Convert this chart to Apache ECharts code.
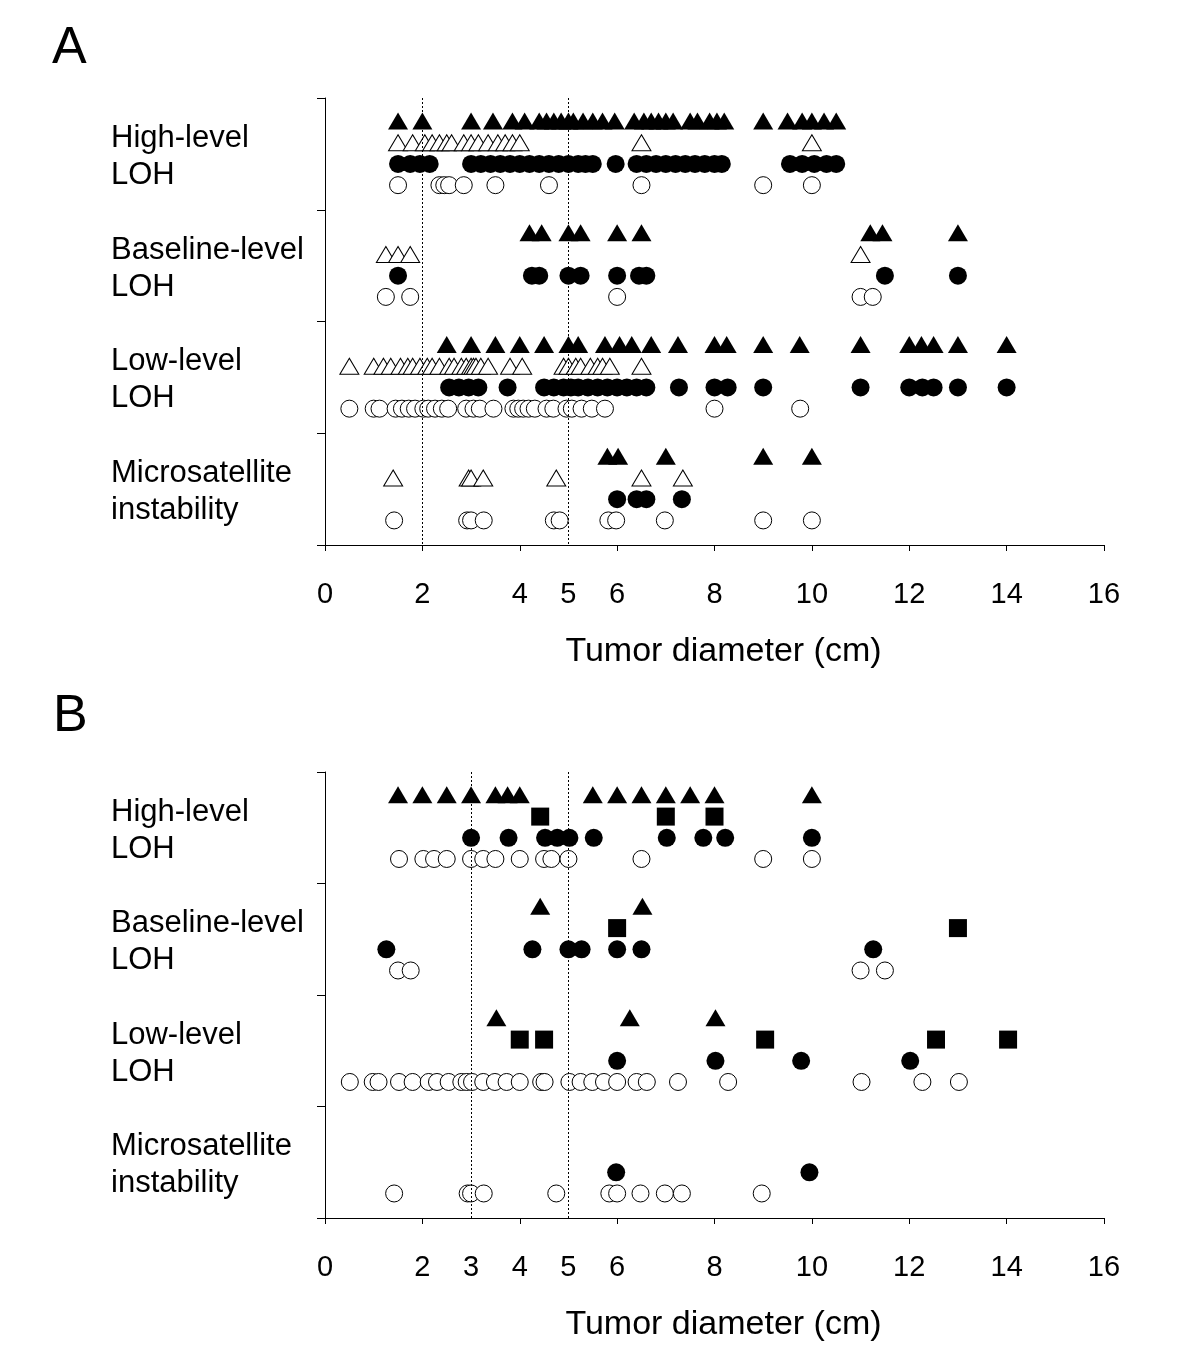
<!DOCTYPE html>
<html><head><meta charset="utf-8">
<script src="https://cdn.jsdelivr.net/npm/echarts@6/dist/echarts.min.js"></script>
<style>html,body{margin:0;padding:0;background:#fff}#c{width:1200px;height:1361px}</style>
</head><body><div id="c"></div>
<script>
// ---------- DATA ----------
const groups = ["High-level\nLOH", "Baseline-level\nLOH", "Low-level\nLOH", "Microsatellite\ninstability"];
const xTicks = [0, 2, 4, 6, 8, 10, 12, 14, 16];
const A_tickLabels = [0, 2, 4, 5, 6, 8, 10, 12, 14, 16];
const B_tickLabels = [0, 2, 3, 4, 5, 6, 8, 10, 12, 14, 16];
const A_cutoffs = [2, 5];
const B_cutoffs = [3, 5];
const xTitle = "Tumor diameter (cm)";

// Panel A (per group: High, Baseline, Low, MSI)
const A_filledTri = [
  [1.5, 2, 3, 3.45, 3.85, 4.1, 4.4, 4.55, 4.7, 4.85, 5, 5.1, 5.3, 5.5, 5.7, 5.95, 6.35, 6.55, 6.7, 6.85, 7, 7.15, 7.5, 7.65, 7.9, 8.05, 8.2, 9, 9.5, 9.8, 10, 10.25, 10.5],
  [4.2, 4.45, 5, 5.25, 6, 6.5, 11.2, 11.45, 13],
  [2.5, 3, 3.5, 4, 4.5, 5, 5.2, 5.75, 6.05, 6.3, 6.7, 7.25, 8, 8.25, 9, 9.75, 11, 12, 12.25, 12.5, 13, 14],
  [5.8, 6.02, 7, 9, 10]
];
const A_openTri = [
  [1.5, 1.8, 2.05, 2.2, 2.35, 2.5, 2.6, 2.85, 3.0, 3.15, 3.35, 3.55, 3.7, 3.85, 4.0, 6.5, 10.0],
  [1.25, 1.5, 1.75, 11.0],
  [0.5, 1.0, 1.2, 1.35, 1.55, 1.7, 1.8, 1.95, 2.1, 2.2, 2.35, 2.55, 2.65, 2.8, 2.9, 3.0, 3.05, 3.1, 3.2, 3.35, 3.8, 4.05, 4.9, 5.0, 5.15, 5.25, 5.45, 5.6, 5.7, 5.85, 6.5],
  [1.4, 2.95, 3.0, 3.25, 4.75, 6.5, 7.35]
];
const A_filledCircle = [
  [1.5, 1.75, 1.95, 2.15, 3.0, 3.2, 3.4, 3.6, 3.8, 4.0, 4.2, 4.4, 4.6, 4.8, 5.0, 5.2, 5.35, 5.5, 5.97, 6.4, 6.6, 6.8, 7.0, 7.2, 7.4, 7.6, 7.8, 8.0, 8.15, 9.55, 9.8, 10.05, 10.3, 10.5],
  [1.5, 4.25, 4.4, 5.0, 5.25, 6.0, 6.45, 6.6, 11.5, 13.0],
  [2.55, 2.75, 2.95, 3.15, 3.75, 4.5, 4.7, 4.9, 5.05, 5.2, 5.4, 5.6, 5.8, 6.0, 6.2, 6.4, 6.6, 7.27, 8.0, 8.27, 9.0, 11.0, 12.0, 12.27, 12.5, 13.0, 14.0],
  [6.0, 6.4, 6.6, 7.33]
];
const A_openCircle = [
  [1.5, 2.35, 2.45, 2.55, 2.85, 3.5, 4.6, 6.5, 9.0, 10.0],
  [1.25, 1.75, 6.0, 11.0, 11.25],
  [0.5, 1.0, 1.12, 1.45, 1.58, 1.72, 1.85, 2.02, 2.12, 2.26, 2.4, 2.53, 2.9, 3.05, 3.18, 3.46, 3.87, 3.97, 4.07, 4.18, 4.31, 4.55, 4.69, 4.96, 5.07, 5.27, 5.48, 5.75, 8.0, 9.76],
  [1.42, 2.92, 3.0, 3.26, 4.7, 4.82, 5.82, 5.98, 6.98, 9.0, 10.0]
];

// Panel B
const B_filledTri = [
  [1.5, 2, 2.5, 3, 3.5, 3.75, 4, 5.5, 6, 6.5, 7, 7.5, 8, 10],
  [4.42, 6.52],
  [3.52, 6.26, 8.02],
  []
];
const B_square = [
  [4.42, 7.0, 8.0],
  [6.0, 13.0],
  [4.0, 4.5, 9.04, 12.55, 14.03],
  []
];
const B_filledCircle = [
  [3.0, 3.77, 4.52, 4.77, 5.02, 5.52, 7.02, 7.77, 8.22, 10.0],
  [1.26, 4.26, 5.0, 5.27, 6.0, 6.5, 11.26],
  [6.0, 8.02, 9.78, 12.02],
  [5.98, 9.95]
];
const B_openCircle = [
  [1.52, 2.02, 2.24, 2.5, 3.0, 3.25, 3.5, 4.0, 4.5, 4.65, 5.0, 6.5, 9.0, 10.0],
  [1.5, 1.76, 11.0, 11.5],
  [0.51, 0.98, 1.1, 1.52, 1.8, 2.13, 2.3, 2.54, 2.8, 2.91, 3.02, 3.25, 3.49, 3.73, 4.0, 4.44, 4.51, 5.02, 5.25, 5.49, 5.73, 6.0, 6.4, 6.61, 7.25, 8.28, 11.02, 12.27, 13.02],
  [1.42, 2.93, 3.0, 3.26, 4.75, 5.84, 6.0, 6.48, 6.98, 7.33, 8.97]
];

// ---------- LAYOUT / STYLE ----------
const FONT = "'Liberation Sans', Arial, sans-serif";
const rowPos = [0.205, 0.4, 0.59, 0.78]; // vertical position of marker rows inside a group band
const labelPos = 0.527;                  // vertical position of the group label inside its band
const grids = [
  { left: 325, top: 98, width: 779, height: 447 },
  { left: 325, top: 772, width: 779, height: 446 }
];

function pts(groupArrs, row) {
  const out = [];
  groupArrs.forEach((xs, g) => xs.forEach(x => out.push([x, g + rowPos[row]])));
  return out;
}
function mk(panel, arrs, row, symbol, size, filled) {
  return {
    type: 'scatter', xAxisIndex: panel, yAxisIndex: panel,
    data: pts(arrs, row), symbol: symbol, symbolSize: size,
    itemStyle: filled ? { color: '#000', opacity: 1 } : { color: '#fff', borderColor: '#000', borderWidth: 1, opacity: 1 },
    emphasis: { disabled: true }, silent: true, z: 3
  };
}
function cutLine(panel, cuts) {
  return {
    type: 'scatter', xAxisIndex: panel, yAxisIndex: panel, data: [], silent: true, z: 1,
    markLine: {
      silent: true, symbol: ['none', 'none'], label: { show: false },
      lineStyle: { type: [2, 2], color: '#000', width: 1, opacity: 1 },
      data: cuts.map(c => ({ xAxis: c }))
    }
  };
}
function xAxis(panel, labels) {
  return {
    type: 'value', gridIndex: panel, min: 0, max: 16, interval: 2,
    axisLine: { show: true, onZero: false, lineStyle: { color: '#000', width: 1 } },
    axisTick: { show: true, customValues: xTicks, length: 6, lineStyle: { color: '#000' } },
    axisLabel: { customValues: labels, fontSize: 29, margin: 35, color: '#000', fontFamily: FONT },
    splitLine: { show: false },
    name: xTitle, nameLocation: 'middle', nameGap: 90,
    nameTextStyle: { fontSize: 34, color: '#000', fontFamily: FONT, padding: [0, 0, 0, 18] }
  };
}
function yAxis(panel) {
  return {
    type: 'value', gridIndex: panel, min: 0, max: 4, inverse: true,
    axisLine: { show: true, onZero: false, lineStyle: { color: '#000', width: 1 } },
    axisTick: { show: true, customValues: [0, 1, 2, 3, 4], length: 8, lineStyle: { color: '#000' } },
    axisLabel: {
      customValues: groups.map((_, i) => i + labelPos),
      formatter: v => groups[Math.floor(v)],
      align: 'left', margin: 214, fontSize: 31, lineHeight: 37, color: '#000', fontFamily: FONT
    },
    splitLine: { show: false }
  };
}

const chart = echarts.init(document.getElementById('c'), null, { renderer: 'canvas' });
chart.setOption({
  animation: false,
  backgroundColor: '#fff',
  textStyle: { fontFamily: FONT },
  grid: grids.map(g => Object.assign({ outerBoundsMode: 'none', containLabel: false }, g)),
  xAxis: [xAxis(0, A_tickLabels), xAxis(1, B_tickLabels)],
  yAxis: [yAxis(0), yAxis(1)],
  graphic: [
    { type: 'text', left: 52, top: 23, style: { text: 'A', fontSize: 52, fill: '#000', fontFamily: FONT } },
    { type: 'text', left: 53, top: 691, style: { text: 'B', fontSize: 52, fill: '#000', fontFamily: FONT } }
  ],
  series: [
    cutLine(0, A_cutoffs),
    cutLine(1, B_cutoffs),
    mk(0, A_filledTri, 0, 'triangle', [20, 17], true),
    mk(0, A_openTri, 1, 'triangle', [19, 16], false),
    mk(0, A_filledCircle, 2, 'circle', 18, true),
    mk(0, A_openCircle, 3, 'circle', 17, false),
    mk(1, B_filledTri, 0, 'triangle', [20, 17], true),
    mk(1, B_square, 1, 'rect', 18, true),
    mk(1, B_filledCircle, 2, 'circle', 18, true),
    mk(1, B_openCircle, 3, 'circle', 17, false)
  ]
});
</script>
</body></html>
